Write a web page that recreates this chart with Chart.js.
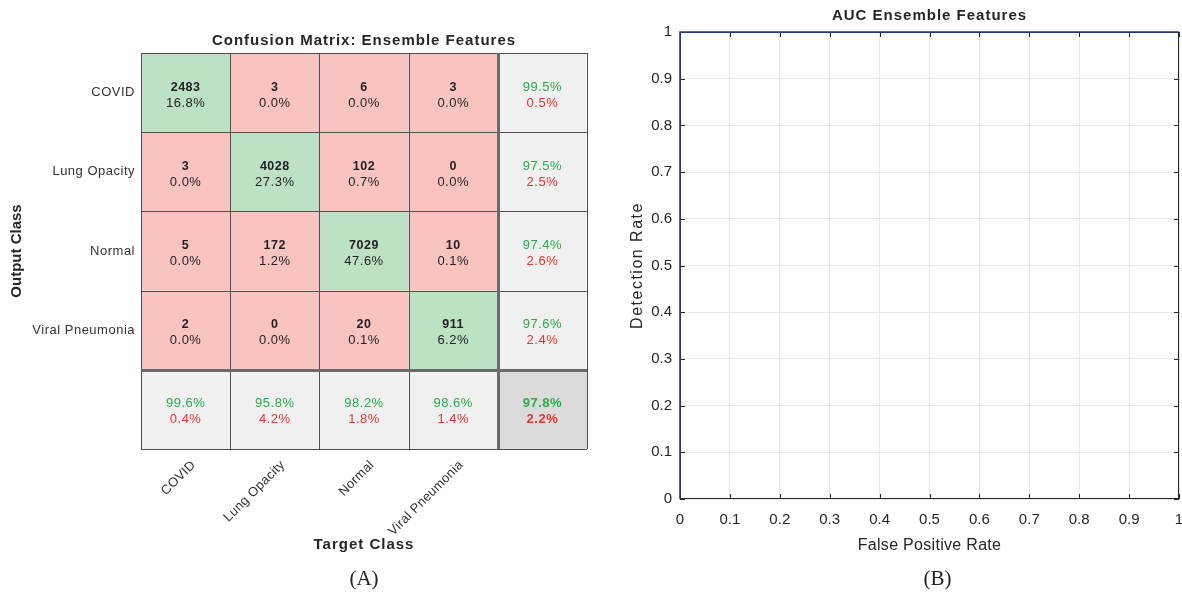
<!DOCTYPE html>
<html>
<head>
<meta charset="utf-8">
<script src="https://cdn.jsdelivr.net/npm/chart.js@4.4.1/dist/chart.umd.min.js"></script>
<style>
  body { margin: 0; background: #fff; width: 1182px; height: 595px; overflow: hidden; position: relative; }
  canvas { position: absolute; top: 0; }
  #cm { left: 0; }
  #roc { left: 591px; }
</style>
</head>
<body>
<canvas id="cm" width="600" height="595"></canvas>
<canvas id="roc" width="591" height="595"></canvas>
<script>
// data
const classes = ['COVID', 'Lung Opacity', 'Normal', 'Viral Pneumonia'];
const counts = [
  [2483, 3, 6, 3],
  [3, 4028, 102, 0],
  [5, 172, 7029, 10],
  [2, 0, 20, 911]
];
const cellPct = [
  [16.8, 0.0, 0.0, 0.0],
  [0.0, 27.3, 0.7, 0.0],
  [0.0, 1.2, 47.6, 0.1],
  [0.0, 0.0, 0.1, 6.2]
];
const rowCorrect = [99.5, 97.5, 97.4, 97.6];
const rowWrong = [0.5, 2.5, 2.6, 2.4];
const colCorrect = [99.6, 95.8, 98.2, 98.6];
const colWrong = [0.4, 4.2, 1.8, 1.4];
const totalCorrect = 97.8;
const totalWrong = 2.2;

const rocFpr = [0, 0, 1];
const rocTpr = [0, 1, 1];

const SANS = '"Liberation Sans", Arial, Helvetica, sans-serif';
const SERIF = '"Liberation Serif", "Times New Roman", serif';
Chart.defaults.font.family = SANS;
Chart.defaults.devicePixelRatio = 1;

const GREEN_CELL = '#bde1c4';
const RED_CELL = '#f9c4c0';
const GRAY_CELL = '#f0f0f1';
const CORNER_CELL = '#dbdbdb';
const GREEN_TXT = '#27ad4b';
const RED_TXT = '#e8342e';

function pct(v) { return v.toFixed(1) + '%'; }

// one point per cell, centre of the cell in matrix units
const cells = [];
for (let r = 0; r < 5; r++) {
  for (let c = 0; c < 5; c++) cells.push({ x: c + 0.5, y: r + 0.5, r: r, c: c });
}

const matrixPlugin = {
  id: 'matrix',
  beforeDatasetsDraw(chart) {
    const ctx = chart.ctx;
    const xs = chart.scales.x, ys = chart.scales.y;
    ctx.save();
    cells.forEach(cell => {
      const x0 = xs.getPixelForValue(cell.c), x1 = xs.getPixelForValue(cell.c + 1);
      const y0 = ys.getPixelForValue(cell.r), y1 = ys.getPixelForValue(cell.r + 1);
      let fill;
      if (cell.r === 4 && cell.c === 4) fill = CORNER_CELL;
      else if (cell.r === 4 || cell.c === 4) fill = GRAY_CELL;
      else if (cell.r === cell.c) fill = GREEN_CELL;
      else fill = RED_CELL;
      ctx.fillStyle = fill;
      ctx.fillRect(x0, y0, x1 - x0, y1 - y0);

      const cx = (x0 + x1) / 2, cy = (y0 + y1) / 2;
      ctx.textAlign = 'center';
      ctx.textBaseline = 'middle';
      ctx.letterSpacing = '0.5px';
      if (cell.r < 4 && cell.c < 4) {
        ctx.fillStyle = '#222';
        ctx.font = 'bold 12.5px ' + SANS;
        ctx.fillText(String(counts[cell.r][cell.c]), cx, cy - 5.5);
        ctx.font = '13px ' + SANS;
        ctx.fillText(pct(cellPct[cell.r][cell.c]), cx, cy + 10.5);
      } else {
        let good, bad;
        if (cell.r === 4 && cell.c === 4) { good = totalCorrect; bad = totalWrong; }
        else if (cell.c === 4) { good = rowCorrect[cell.r]; bad = rowWrong[cell.r]; }
        else { good = colCorrect[cell.c]; bad = colWrong[cell.c]; }
        const f = (cell.r === 4 && cell.c === 4) ? 'bold 13px ' : '13px ';
        ctx.font = f + SANS;
        ctx.fillStyle = GREEN_TXT;
        ctx.fillText(pct(good), cx, cy - 5.5);
        ctx.fillStyle = RED_TXT;
        ctx.fillText(pct(bad), cx, cy + 10.5);
      }
    });

    // cell borders
    const left = xs.getPixelForValue(0), right = xs.getPixelForValue(5);
    const top = ys.getPixelForValue(0), bottom = ys.getPixelForValue(5);
    for (let i = 0; i <= 5; i++) {
      const px = Math.round(xs.getPixelForValue(i)) + 0.5;
      const py = Math.round(ys.getPixelForValue(i)) + 0.5;
      const thick = i === 4;
      ctx.strokeStyle = thick ? '#6a6a6a' : '#505050';
      ctx.lineWidth = thick ? 3 : 1;
      ctx.beginPath(); ctx.moveTo(px, top); ctx.lineTo(px, bottom); ctx.stroke();
      ctx.beginPath(); ctx.moveTo(left, py); ctx.lineTo(right, py); ctx.stroke();
    }

    // labels
    ctx.fillStyle = '#262626';
    ctx.textAlign = 'center';
    ctx.font = 'bold 15px ' + SANS;
    ctx.letterSpacing = '1px';
    ctx.fillText('Confusion Matrix: Ensemble Features', (left + right) / 2, 41);
    ctx.fillText('Target Class', (left + right) / 2, 545);

    ctx.save();
    ctx.translate(17, (top + bottom) / 2);
    ctx.rotate(-Math.PI / 2);
    ctx.letterSpacing = '0px';
    ctx.fillText('Output Class', 0, 0);
    ctx.restore();

    ctx.font = '13px ' + SANS;
    ctx.letterSpacing = '0.5px';
    ctx.fillStyle = '#333';
    ctx.textAlign = 'right';
    classes.forEach((name, i) => {
      ctx.fillText(name, 135, ys.getPixelForValue(i + 0.5));
    });
    ctx.letterSpacing = '0.3px';
    classes.forEach((name, i) => {
      ctx.save();
      ctx.translate(xs.getPixelForValue(i + 0.5) + 8, 463);
      ctx.rotate(-Math.PI / 4);
      ctx.fillText(name, 0, 0);
      ctx.restore();
    });

    ctx.letterSpacing = '0px';
    ctx.fillStyle = '#222';
    ctx.textAlign = 'center';
    ctx.font = '21px ' + SERIF;
    ctx.fillText('(A)', (left + right) / 2, 579);
    ctx.restore();
  }
};

new Chart(document.getElementById('cm'), {
  type: 'scatter',
  data: { datasets: [{ data: cells, pointRadius: 0, pointHoverRadius: 0 }] },
  options: {
    responsive: false,
    animation: false,
    events: [],
    layout: { autoPadding: false, padding: { left: 141, top: 53, right: 13, bottom: 146 } },
    plugins: { legend: { display: false }, tooltip: { enabled: false } },
    scales: {
      x: { type: 'linear', min: 0, max: 5, display: false },
      y: { type: 'linear', min: 0, max: 5, reverse: true, display: false }
    }
  },
  plugins: [matrixPlugin]
});

// ROC panel extras: frame, inward ticks, titles
const rocFrame = {
  id: 'rocFrame',
  beforeDatasetsDraw(chart) {
    const ctx = chart.ctx, a = chart.chartArea;
    const xs = chart.scales.x, ys = chart.scales.y;
    ctx.save();
    ctx.strokeStyle = '#262626';
    ctx.lineWidth = 1;
    ctx.strokeRect(Math.round(a.left) + 0.5, Math.round(a.top) + 0.5,
      Math.round(a.right - a.left) - 1, Math.round(a.bottom - a.top) - 1);
    ctx.beginPath();
    xs.ticks.forEach(t => {
      const px = Math.round(xs.getPixelForValue(t.value)) + 0.5;
      ctx.moveTo(px, a.bottom); ctx.lineTo(px, a.bottom - 5);
      ctx.moveTo(px, a.top); ctx.lineTo(px, a.top + 5);
    });
    ys.ticks.forEach(t => {
      const py = Math.round(ys.getPixelForValue(t.value)) + 0.5;
      ctx.moveTo(a.left, py); ctx.lineTo(a.left + 5, py);
      ctx.moveTo(a.right, py); ctx.lineTo(a.right - 5, py);
    });
    ctx.stroke();
    ctx.restore();
  },
  afterDraw(chart) {
    const ctx = chart.ctx, a = chart.chartArea;
    const mid = (a.left + a.right) / 2;
    ctx.save();
    ctx.fillStyle = '#262626';
    ctx.textAlign = 'center';
    ctx.textBaseline = 'middle';
    ctx.font = 'bold 15px ' + SANS;
    ctx.letterSpacing = '1px';
    ctx.fillText('AUC Ensemble Features', mid, 16);
    ctx.font = '16px ' + SANS;
    ctx.letterSpacing = '0.3px';
    ctx.fillText('False Positive Rate', mid, 546);
    ctx.save();
    ctx.translate(47, (a.top + a.bottom) / 2);
    ctx.rotate(-Math.PI / 2);
    ctx.letterSpacing = '1.5px';
    ctx.fillText('Detection Rate', 0, 0);
    ctx.restore();
    ctx.letterSpacing = '0px';
    ctx.fillStyle = '#222';
    ctx.font = '21px ' + SERIF;
    ctx.fillText('(B)', mid + 8, 579);
    ctx.restore();
  }
};

const rateLabel = v => String(Math.round(v * 10) / 10);

new Chart(document.getElementById('roc'), {
  type: 'line',
  data: {
    datasets: [{
      data: rocFpr.map((x, i) => ({ x: x, y: rocTpr[i] })),
      borderColor: '#233f8f',
      borderWidth: 1.6,
      pointRadius: 0,
      fill: false,
      tension: 0,
      clip: 4
    }]
  },
  options: {
    responsive: false,
    animation: false,
    events: [],
    layout: { autoPadding: false, padding: { left: 0, top: 32, right: 3, bottom: 0 } },
    plugins: { legend: { display: false }, tooltip: { enabled: false } },
    scales: {
      x: {
        type: 'linear', min: 0, max: 1,
        afterFit: s => { s.height = 96; s.paddingLeft = 0; s.paddingRight = 0; },
        grid: { color: '#e8e8e8', drawTicks: false },
        border: { display: false },
        ticks: { stepSize: 0.1, padding: 12, color: '#262626', font: { size: 15 }, callback: rateLabel }
      },
      y: {
        type: 'linear', min: 0, max: 1,
        afterFit: s => { s.width = 89; s.paddingTop = 0; s.paddingBottom = 0; },
        grid: { color: '#e8e8e8', drawTicks: false },
        border: { display: false },
        ticks: { stepSize: 0.1, padding: 8, color: '#262626', font: { size: 15 }, callback: rateLabel }
      }
    }
  },
  plugins: [rocFrame]
});
</script>
</body>
</html>
